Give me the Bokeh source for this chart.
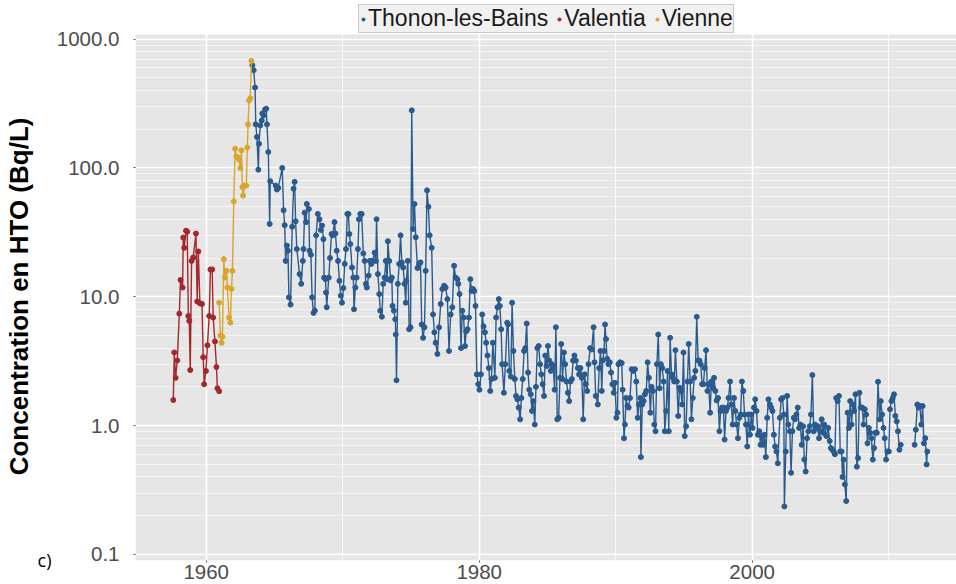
import math
from bokeh.plotting import figure
from bokeh.models import (Range1d, FixedTicker, CustomJSTickFormatter, Legend,
                          LegendItem, BoxAnnotation, LogAxis)
from bokeh.embed import file_html
from bokeh.resources import INLINE

# ---------------- data ----------------
valentia_year = [1957.59, 1957.66, 1957.76, 1957.88, 1958.03, 1958.12, 1958.27, 1958.32,
                 1958.39, 1958.52, 1958.61, 1958.69, 1958.76, 1958.83, 1958.93, 1959.05,
                 1959.25, 1959.34, 1959.42, 1959.54, 1959.69, 1959.78, 1959.85, 1959.98,
                 1960.09, 1960.22, 1960.31, 1960.44, 1960.51, 1960.64, 1960.75, 1960.82,
                 1960.95]
valentia_hto = [1.58, 3.7, 2.35, 3.2, 7.4, 13.5, 11.8, 28.8, 24, 32.6, 32, 7.1, 6.5, 2.7,
                19, 20.2, 31, 9.2, 22.5, 8.9, 8.8, 3.4, 2.1, 2.66, 4.2, 7.1, 16.3, 16.3,
                6.9, 4.5, 2.85, 1.95, 1.85]

vienne_year = [1960.95, 1961.04, 1961.12, 1961.19, 1961.29, 1961.37, 1961.48, 1961.55,
               1961.68, 1961.77, 1961.85, 1961.92, 1962.02, 1962.12, 1962.21, 1962.31,
               1962.41, 1962.50, 1962.58, 1962.65, 1962.70, 1962.83, 1962.94, 1963.01,
               1963.07, 1963.14, 1963.23, 1963.31]
vienne_hto = [9.0, 5.0, 4.4, 4.9, 19.6, 14.1, 15.9, 11.8, 6.9, 6.3, 11.5, 15.9, 55, 141,
              123, 121, 116, 100, 137, 71, 61, 73, 73, 144, 218, 335, 347, 677]

thonon_year = [
    1963.38, 1963.48, 1963.58, 1963.63, 1963.72, 1963.82, 1963.87, 1963.96, 1964.07, 1964.11,
    1964.21, 1964.31, 1964.40, 1964.45, 1964.55, 1964.65, 1964.69, 1965.09, 1965.18, 1965.28,
    1965.57, 1965.67, 1965.75, 1965.82, 1965.91, 1965.99, 1966.06, 1966.18, 1966.30, 1966.40,
    1966.48, 1966.55, 1966.64, 1966.84, 1966.96, 1967.08, 1967.13, 1967.21, 1967.32, 1967.37,
    1967.52, 1967.57, 1967.67, 1967.76, 1967.86, 1967.96, 1968.05, 1968.18, 1968.30, 1968.40,
    1968.49, 1968.59, 1968.64, 1968.74, 1968.78, 1968.83, 1968.98, 1969.07, 1969.18, 1969.27,
    1969.40, 1969.47, 1969.56, 1969.66, 1969.76, 1969.86, 1969.95, 1970.05, 1970.15, 1970.24,
    1970.34, 1970.42, 1970.49, 1970.56, 1970.68, 1970.78, 1970.83, 1970.93, 1971.02, 1971.12,
    1971.19, 1971.29, 1971.39, 1971.51, 1971.61, 1971.70, 1971.77, 1971.90, 1971.99, 1972.10,
    1972.19, 1972.34, 1972.43, 1972.48, 1972.58, 1972.68, 1972.75, 1972.87, 1972.97, 1973.07,
    1973.16, 1973.26, 1973.31, 1973.41, 1973.51, 1973.60, 1973.65, 1973.75, 1973.85, 1973.89,
    1973.94, 1974.04, 1974.14, 1974.24, 1974.33, 1974.43, 1974.53, 1974.62, 1974.67, 1974.77,
    1974.87, 1974.97, 1975.06, 1975.16, 1975.26, 1975.35, 1975.48, 1975.60, 1975.70, 1975.79,
    1975.89, 1975.99, 1976.08, 1976.18, 1976.28, 1976.37, 1976.52, 1976.62, 1976.72, 1976.81,
    1976.94, 1977.06, 1977.18, 1977.30, 1977.43, 1977.54, 1977.67, 1977.79, 1977.91, 1978.03,
    1978.16, 1978.27, 1978.40, 1978.47, 1978.56, 1978.67, 1978.76, 1978.86, 1978.96, 1979.05,
    1979.15, 1979.25, 1979.35, 1979.44, 1979.54, 1979.64, 1979.73, 1979.83, 1979.93, 1980.02,
    1980.13, 1980.22, 1980.32, 1980.42, 1980.51, 1980.61, 1980.71, 1980.81, 1980.90, 1981.00,
    1981.15, 1981.24, 1981.34, 1981.44, 1981.51, 1981.61, 1981.68, 1981.81, 1981.92, 1982.05,
    1982.12, 1982.21, 1982.32, 1982.41, 1982.51, 1982.61, 1982.70, 1982.80, 1982.90, 1983.00,
    1983.09, 1983.19, 1983.29, 1983.38, 1983.48, 1983.58, 1983.67, 1983.78, 1983.87, 1983.97,
    1984.07, 1984.16, 1984.26, 1984.36, 1984.46, 1984.55, 1984.65, 1984.75, 1984.84, 1984.94,
    1985.04, 1985.13, 1985.24, 1985.33, 1985.43, 1985.53, 1985.62, 1985.72, 1985.82, 1985.92,
    1986.01, 1986.11, 1986.21, 1986.30, 1986.40, 1986.50, 1986.59, 1986.69, 1986.79, 1986.88,
    1986.98, 1987.08, 1987.23, 1987.32, 1987.42, 1987.52, 1987.62, 1987.72, 1987.81, 1987.91,
    1988.01, 1988.13, 1988.25, 1988.38, 1988.45, 1988.54, 1988.69, 1988.79, 1988.89, 1988.98,
    1989.05, 1989.15, 1989.22, 1989.29, 1989.37, 1989.47, 1989.57, 1989.66, 1989.76, 1989.86,
    1989.95, 1990.05, 1990.13, 1990.20, 1990.32, 1990.44, 1990.51, 1990.61, 1990.68, 1990.76,
    1990.86, 1990.95, 1991.05, 1991.17, 1991.30, 1991.41, 1991.51, 1991.61, 1991.70, 1991.81,
    1991.85, 1991.95, 1992.05, 1992.14, 1992.24, 1992.34, 1992.43, 1992.54, 1992.63, 1992.73,
    1992.83, 1992.92, 1993.02, 1993.12, 1993.22, 1993.31, 1993.41, 1993.51, 1993.60, 1993.70,
    1993.80, 1993.89, 1993.99, 1994.09, 1994.19, 1994.29, 1994.38, 1994.48, 1994.58, 1994.68,
    1994.77, 1994.87, 1994.97, 1995.06, 1995.16, 1995.26, 1995.35, 1995.46, 1995.55, 1995.65,
    1995.75, 1995.84, 1995.94, 1996.04, 1996.14, 1996.23, 1996.33, 1996.43, 1996.52, 1996.62,
    1996.72, 1996.81, 1996.92, 1997.01, 1997.11, 1997.21, 1997.30, 1997.40, 1997.50, 1997.60,
    1997.69, 1997.79, 1997.89, 1997.98, 1998.08, 1998.18, 1998.27, 1998.38, 1998.47, 1998.57,
    1998.67, 1998.76, 1998.86, 1998.96, 1999.06, 1999.15, 1999.25, 1999.35, 1999.44, 1999.54,
    1999.64, 1999.73, 1999.84, 1999.93, 2000.03, 2000.13, 2000.22, 2000.32, 2000.42, 2000.52,
    2000.61, 2000.71, 2000.81, 2000.90, 2001.00, 2001.10, 2001.19, 2001.30, 2001.39, 2001.49,
    2001.59, 2001.68, 2001.78, 2001.88, 2002.03, 2002.12, 2002.22, 2002.32, 2002.36, 2002.46,
    2002.56, 2002.65, 2002.76, 2002.85, 2002.95, 2003.05, 2003.14, 2003.24, 2003.34, 2003.44,
    2003.53, 2003.63, 2003.73, 2003.82, 2003.92, 2004.02, 2004.11, 2004.22, 2004.31, 2004.41,
    2004.51, 2004.60, 2004.70, 2004.80, 2004.90, 2004.99, 2005.09, 2005.19, 2005.28, 2005.43,
    2005.57, 2005.68, 2005.77, 2005.87, 2005.97, 2006.06, 2006.16, 2006.26, 2006.36, 2006.45,
    2006.55, 2006.62, 2006.70, 2006.79, 2006.89, 2006.99, 2007.09, 2007.18, 2007.28, 2007.38,
    2007.47, 2007.57, 2007.67, 2007.76, 2007.86, 2007.96, 2008.06, 2008.16, 2008.25, 2008.35,
    2008.45, 2008.55, 2008.64, 2008.74, 2008.84, 2008.93, 2009.03, 2009.13, 2009.22, 2009.33,
    2009.42, 2009.52, 2009.62, 2009.71, 2009.81, 2009.91, 2010.01, 2010.10, 2010.20, 2010.30,
    2010.39, 2010.49, 2010.59, 2010.68, 2010.79, 2010.88,
    2011.90, 2011.99, 2012.10, 2012.20, 2012.29, 2012.39, 2012.49, 2012.58, 2012.68, 2012.78,
    2012.83]
thonon_hto = [
    628, 574, 421, 218, 174, 97, 154, 214, 234, 265,
    256, 284, 288, 218, 133, 36.8, 79, 73, 68, 70,
    100, 47, 36, 19, 25, 22.8, 9.9, 8.7, 35, 69,
    78, 38.5, 23.5, 15, 12.6, 19, 23.5, 45, 38, 52.6,
    48, 22.8, 21.2, 9.9, 7.5, 7.8, 30, 44, 40, 33,
    35.7, 28, 14.1, 13.7, 10.8, 8.3, 14.1, 20, 30.7, 30,
    38, 31, 22.8, 19, 13.3, 10.2, 9.0, 11.7, 18, 23.5,
    44, 44, 30.7, 25.7, 16.9, 14.1, 8.0, 11.8, 14.1, 23.5,
    40, 44, 44, 21.7, 19, 12.6, 11.8, 14.6, 19, 18,
    19, 22, 19, 40, 15, 10.5, 7.8, 7.0, 12.6, 14.1,
    19, 13.7, 27, 19, 13.4, 14.1, 8.5, 7.8, 6.7, 5.1,
    2.25, 12.6, 18, 30, 18.5, 16.9, 12.6, 9.0, 13.3, 19,
    5.6, 5.8, 280, 33.6, 52.6, 29, 16.7, 18, 18.5, 6.1,
    4.8, 5.8, 15.9, 67, 50, 30, 24, 7.3, 5.3, 4.4,
    3.6, 5.8, 8.8, 11.5, 12.2, 11.8, 9.6, 3.8, 7.3, 8.3,
    17.4, 14.1, 13.7, 12.6, 10.5, 4.0, 7.8, 6.9, 4.15, 5.4,
    5.6, 6.9, 13.7, 11.1, 11.5, 11.1, 8.5, 2.5, 2.1, 1.9,
    2.5, 7.3, 5.9, 5.3, 4.4, 3.5, 2.8, 1.86, 2.3, 4.4,
    2.35, 6.9, 8.3, 9.6, 8.5, 5.6, 3.0, 1.8, 3.0, 6.3,
    6.1, 2.66, 2.4, 9.0, 3.8, 2.3, 1.7, 1.6, 1.38, 1.12,
    1.64, 2.3, 3.8, 4.0, 6.2, 2.58, 1.9, 1.75, 1.3, 1.55,
    1.02, 2.0, 4.0, 4.15, 3.0, 2.5, 2.1, 1.7, 3.5, 2.9,
    4.15, 3.2, 2.66, 3.0, 2.8, 1.9, 5.8, 1.12, 1.15, 2.35,
    4.3, 2.3, 3.7, 3.0, 2.2, 1.8, 1.55, 2.2, 2.3, 3.2,
    3.5, 3.2, 2.8, 2.5, 2.8, 2.35, 1.12, 2.5, 2.1, 1.86,
    3.0, 4.0, 3.9, 5.8, 3.1, 1.7, 1.46, 2.8, 3.8, 1.86,
    3.2, 3.8, 6.1, 4.7, 3.3, 3.0, 3.1, 2.58, 2.1, 1.8,
    2.15, 1.15, 1.26, 3.0, 3.1, 3.06, 1.9, 0.80, 1.02, 1.64,
    1.42, 1.38, 1.64, 2.74, 2.66, 2.74, 2.2, 1.15, 1.46, 1.64,
    0.57, 1.46, 1.55, 1.75, 1.86, 3.1, 2.35, 1.26, 2.0, 1.86,
    1.02, 0.905, 3.0, 5.1, 1.95, 3.0, 2.8, 2.2, 0.905, 1.3,
    2.66, 0.905, 4.8, 2.5, 2.35, 2.2, 3.85, 2.2, 1.19, 1.97,
    1.86, 1.46, 3.7, 0.83, 0.99, 2.2, 4.3, 2.2, 1.12, 1.64,
    2.35, 2.66, 7.0, 3.2, 3.2, 3.0, 2.1, 2.1, 2.8, 3.85,
    1.86, 2.1, 1.26, 2.2, 1.97, 2.35, 1.86, 1.57, 1.64, 0.905,
    1.3, 1.38, 1.38, 0.78, 1.3, 1.38, 1.64, 2.2, 1.46, 1.02,
    1.64, 1.3, 1.02, 0.80, 1.15, 1.22, 2.2, 1.86, 1.22, 1.02,
    0.69, 1.22, 0.85, 1.22, 0.96, 1.38, 1.6, 1.3, 0.85, 0.905,
    0.71, 0.83, 0.71, 0.85, 0.57, 1.15, 1.6, 1.46, 1.38, 1.3,
    0.85, 0.69, 0.63, 0.51, 1.15, 1.6, 1.64, 1.22, 0.236, 0.63,
    1.7, 1.02, 0.905, 0.43, 0.905, 1.15, 1.12, 1.22, 1.38, 0.96,
    1.02, 0.71, 0.99, 0.545, 0.44, 0.80, 0.905, 0.99, 1.22, 2.47,
    0.905, 1.02, 0.96, 0.99, 0.80, 0.905, 1.12, 0.88, 1.02, 0.83,
    0.96, 0.76, 0.67, 0.65, 0.63, 0.60, 1.64, 1.55, 1.7, 0.63,
    0.63, 0.40, 0.545, 0.35, 0.26, 1.26, 0.96, 1.55, 1.02, 1.46,
    1.3, 1.75, 0.48, 0.56, 1.8, 1.38, 1.38, 1.02, 1.34, 1.22,
    0.73, 0.96, 0.88, 0.80, 0.545, 0.67, 0.88, 0.88, 2.19, 1.12,
    1.55, 1.22, 0.96, 0.80, 0.545, 0.63, 0.63, 1.34, 1.55, 1.64,
    1.75, 1.19, 1.08, 0.905, 0.65, 0.71,
    0.71, 0.93, 1.46, 1.38, 1.42, 1.02, 1.42, 0.73, 0.80, 0.50,
    0.63]

series_names = ["Thonon-les-Bains", "Valentia", "Vienne"]
series_colors = ["#2A5B8E", "#A3282C", "#D8A62C"]

x_major = [1960, 1980, 2000]
x_minor = [1950, 1970, 1990, 2010]
y_major = [0.1, 1, 10, 100, 1000]
y_minor = [m * d for d in (0.1, 1, 10, 100) for m in range(2, 10)]
panel_top = 1084          # upper limit of the grey plotting panel
panel_tag = "c)"
y_title = "Concentration en HTO (Bq/L)"


def with_gaps(xs, ys, max_gap=0.5):
    """Insert NaN where the sampling has a gap, so that the line breaks there."""
    ox, oy = [], []
    for i, (x, y) in enumerate(zip(xs, ys)):
        if i > 0 and x - xs[i - 1] > max_gap:
            ox.append(float("nan"))
            oy.append(float("nan"))
        ox.append(x)
        oy.append(y)
    return ox, oy


y_lo, y_hi = 0.0898, 1890
p = figure(width=956, height=584, y_axis_type="log",
           x_range=Range1d(1954.82, 2014.97), y_range=Range1d(y_lo, y_hi),
           output_backend="svg", toolbar_location=None,
           min_border_left=132, min_border_right=0, min_border_top=3,
           min_border_bottom=24)
p.background_fill_color = "white"
p.border_fill_color = "white"
p.outline_line_color = None

# grey panel (ends below the legend strip)
p.add_layout(BoxAnnotation(top=panel_top, fill_color="#E6E6E6", fill_alpha=1,
                           line_color=None, level="image"))

# axes and grids
p.xaxis.ticker = FixedTicker(ticks=x_major, minor_ticks=x_minor)
p.yaxis.ticker = FixedTicker(ticks=y_major, minor_ticks=y_minor)
p.yaxis.formatter = CustomJSTickFormatter(code="return tick.toFixed(1);")
for ax in (p.xaxis[0], p.yaxis[0]):
    ax.axis_line_color = None
    ax.major_tick_line_color = "#555555"
    ax.major_tick_in = 0
    ax.major_tick_out = 2
    ax.minor_tick_line_color = None
    ax.major_label_text_font = "Liberation Sans"
    ax.major_label_text_font_size = "20.5px"
    ax.major_label_text_color = "#4D4D4D"
p.xaxis.major_label_standoff = 0
p.yaxis.major_label_standoff = 12

# outer left axis: carries the panel tag "c)" at the bottom and the y title
tag_axis = LogAxis(ticker=FixedTicker(ticks=[y_lo * 1.002], minor_ticks=[]),
                   formatter=CustomJSTickFormatter(args=dict(tag=panel_tag),
                                                   code="return tag;"))
tag_axis.axis_line_color = None
tag_axis.major_tick_line_color = None
tag_axis.minor_tick_line_color = None
tag_axis.major_tick_in = 0
tag_axis.major_tick_out = 0
tag_axis.major_label_standoff = 2
tag_axis.major_label_text_font = "Open Sans"
tag_axis.major_label_text_font_size = "18px"
tag_axis.major_label_text_color = "black"
tag_axis.axis_label = y_title + "\u00a0" * 4
tag_axis.axis_label_text_font = "Liberation Sans"
tag_axis.axis_label_text_font_style = "bold"
tag_axis.axis_label_text_font_size = "26px"
tag_axis.axis_label_text_color = "black"
tag_axis.axis_label_standoff = 1
p.add_layout(tag_axis, "left")

for g in (p.xgrid[0], p.ygrid[0]):
    g.grid_line_color = "white"
    g.grid_line_width = 1.6
    g.minor_grid_line_color = "white"
    g.minor_grid_line_width = 0.8
p.ygrid.minor_grid_line_alpha = 0.75

# series
renderers = []
for name, color, xs, ys in zip(series_names, series_colors,
                               [thonon_year, valentia_year, vienne_year],
                               [thonon_hto, valentia_hto, vienne_hto]):
    lx, ly = with_gaps(xs, ys)
    p.line(lx, ly, line_color=color, line_width=1.4)
    r = p.scatter(xs, ys, size=5, fill_color=color, line_color=color)
    renderers.append((name, r))

legend = Legend(items=[LegendItem(label=n, renderers=[r]) for n, r in renderers],
                orientation="horizontal", location=(223, 527))
legend.label_text_font = "Liberation Sans"
legend.label_text_font_size = "23px"
legend.label_text_color = "#1A1A1A"
legend.label_height = 18
legend.glyph_width = 8
legend.glyph_height = 14
legend.label_standoff = 1
legend.spacing = 7
legend.padding = 0
legend.margin = 0
legend.border_line_color = "#A0A0A0"
legend.background_fill_color = "#F0F0F0"
p.add_layout(legend, "center")

open("out.html", "w").write(file_html(p, INLINE))
